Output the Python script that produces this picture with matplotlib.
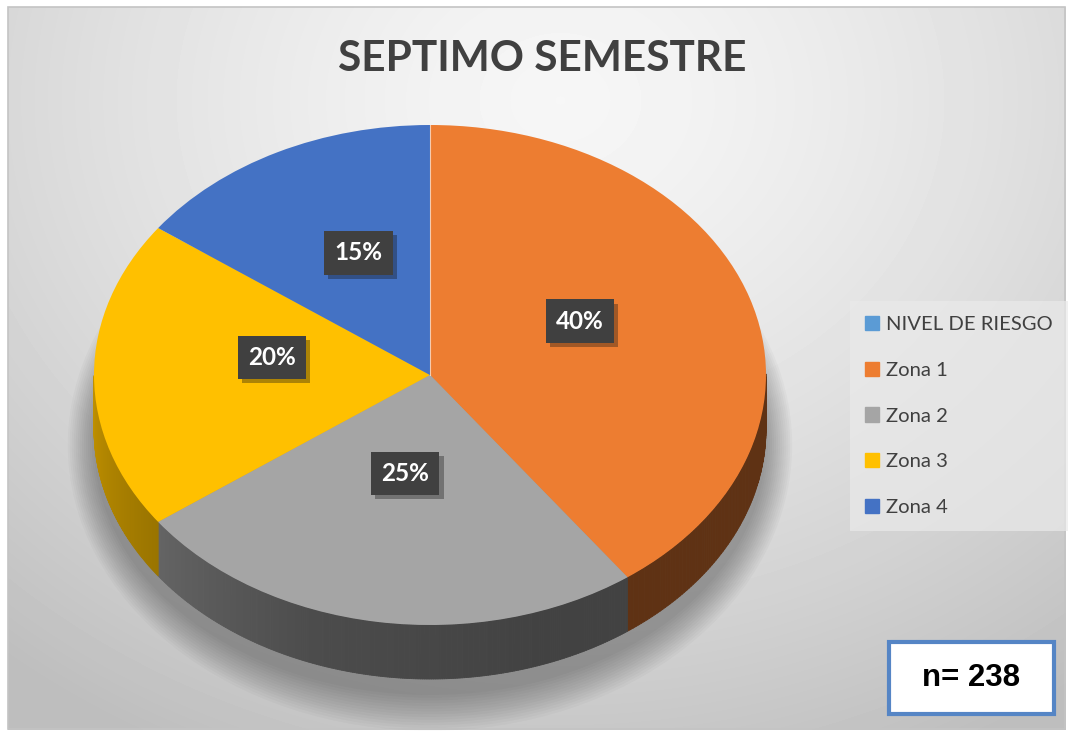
import numpy as np
import matplotlib
matplotlib.use('Agg')
import matplotlib.pyplot as plt
from matplotlib.patches import Patch, Rectangle, Ellipse
from matplotlib.collections import PolyCollection
import matplotlib.patheffects as pe

# data
labels = ['Zona 1', 'Zona 2', 'Zona 3', 'Zona 4']
values = [40, 25, 20, 15]
colors = ['#ED7D31', '#A5A5A5', '#FFC000', '#4472C4']
series_name = 'NIVEL DE RIESGO'
series_color = '#5B9BD5'
title = 'SEPTIMO SEMESTRE'
n_total = 238

FONT = ['Lato', 'DejaVu Sans']
W, H = 1071, 734
fig = plt.figure(figsize=(W / 100, H / 100), dpi=100)

# background (pixel coords)
bg = fig.add_axes([0, 0, 1, 1])
bg.set_xlim(0, W)
bg.set_ylim(H, 0)
bg.axis('off')
yy, xx = np.mgrid[0:H, 0:W]
d = np.hypot((xx - 560) / 720, (yy - 100) / 600)
shade = 0.965 - 0.17 * np.clip(d, 0, 1.2) ** 1.4
inside = (xx >= 8) & (xx <= 1065) & (yy >= 7) & (yy <= 729)
shade[~inside] = 1.0
bg.imshow(shade, cmap='gray', vmin=0, vmax=1, extent=(0, W, H, 0), aspect='auto')
bg.add_patch(Rectangle((8, 7), 1057, 722, fill=False, ec='#c4c4c4', lw=1.2))

# pie axes: unit circle stretched into the ellipse
cx, cy, rx, ry = 430, 375, 336, 250
pax = fig.add_axes([(cx - rx) / W, 1 - (cy + ry) / H, 2 * rx / W, 2 * ry / H])
depth = 54 / ry

wedges, texts, autotexts = pax.pie(values, colors=colors, startangle=90, counterclock=False,
                                   autopct='%1.0f%%', pctdistance=0.47,
                                   wedgeprops=dict(linewidth=0, zorder=5),
                                   textprops=dict(zorder=8))
pax.set_aspect('auto')
pax.set_xlim(-1, 1)
pax.set_ylim(-1, 1)
pax.axis('off')
# thin light seam at 12 o'clock
pax.plot([0, 0], [0, 1], color='white', lw=0.8, alpha=0.6, zorder=6)

# soft shadow under the pie
for k in range(14):
    pax.add_patch(Ellipse((0, -0.28), 2.0 + 0.012 * k, 2.0 + 0.022 * k, color='black',
                          alpha=0.024, lw=0, zorder=1, clip_on=False))

# side walls, shaded from left to right
def wall_factor(a):
    return np.interp(a, [180, 250, 290, 360], [0.76, 0.46, 0.40, 0.40])

for w, c in zip(wedges, colors):
    base = np.array(matplotlib.colors.to_rgb(c))
    ts = np.linspace(w.theta1, w.theta2, 240)
    polys, fcs = [], []
    for a, b in zip(ts[:-1], ts[1:]):
        m = 0.5 * (a + b)
        if np.sin(np.radians(m)) >= 0:
            continue
        ra, rb = np.radians(a), np.radians(b)
        p = [(np.cos(ra), np.sin(ra)), (np.cos(rb), np.sin(rb)),
             (np.cos(rb), np.sin(rb) - depth), (np.cos(ra), np.sin(ra) - depth)]
        polys.append(p)
        fcs.append(tuple(base * wall_factor(m % 360)))
    if polys:
        pax.add_collection(PolyCollection(polys, facecolors=fcs, edgecolors=fcs,
                                          linewidths=0.6, zorder=3, clip_on=False))

# percentage labels in dark boxes
for t in autotexts:
    x, y = t.get_position()
    t.set_position((x, y + 0.07))
    t.set_color('white')
    t.set_fontsize(17.5)
    t.set_fontweight('bold')
    t.set_family(FONT)
    t.set_bbox(dict(boxstyle='square,pad=0.42', fc='#404040', ec='none'))
    t.get_bbox_patch().set_path_effects([pe.SimplePatchShadow(offset=(3, -3), alpha=0.35),
                                         pe.Normal()])

# title
fig.text(542 / W, 1 - 59 / H, title, ha='center', va='center', fontsize=30.5,
         fontweight='bold', color='#404040', family=FONT)

# legend
handles = [Patch(color=series_color)] + [Patch(color=c) for c in colors]
leg = fig.legend(handles, [series_name] + labels, loc='upper left',
                 bbox_to_anchor=(850 / W, 1 - 301 / H), borderaxespad=0,
                 frameon=True, fancybox=False,
                 facecolor='#eaeaea', edgecolor='none', framealpha=0.7,
                 labelcolor='#404040', handlelength=0.7, handleheight=0.7,
                 handletextpad=0.35, labelspacing=1.4, borderpad=0.75,
                 prop=dict(family=FONT, size=14.6))

# n box
bg.add_patch(Rectangle((889, 642), 165, 72, fc='white', ec='#5585c5', lw=3, zorder=5))
bg.text(971, 678, f'n= {n_total}', ha='center', va='center', fontsize=22.5,
        fontweight='bold', color='black', family=['Liberation Sans', 'DejaVu Sans'], zorder=6)

fig.savefig('out.png', dpi=100)
